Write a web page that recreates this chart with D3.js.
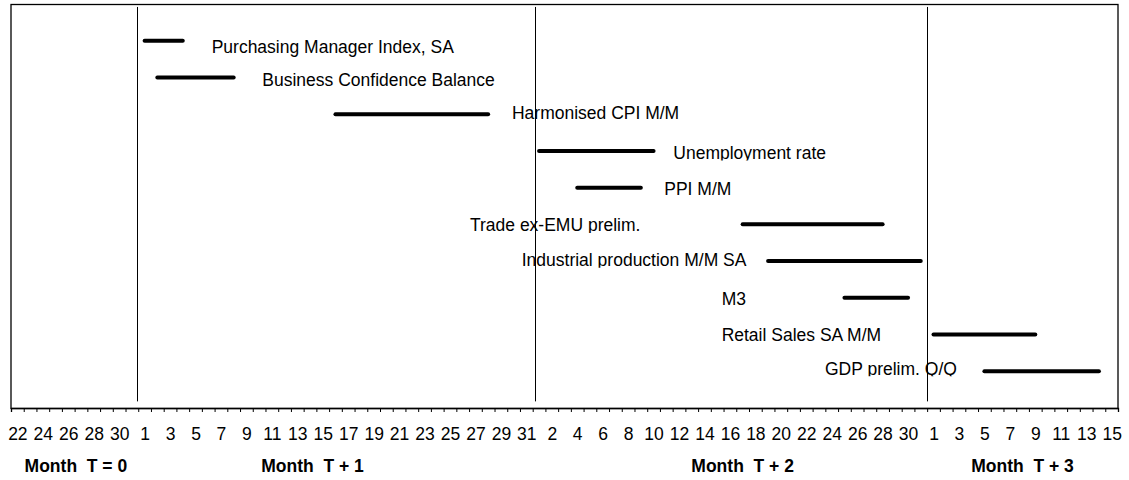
<!DOCTYPE html>
<html>
<head>
<meta charset="utf-8">
<script src="https://cdn.jsdelivr.net/npm/d3@7"></script>
<style>
  body { margin: 0; background: #fff; }
  svg { display: block; font-family: "Liberation Sans", Arial, sans-serif; }
</style>
</head>
<body>
<svg id="chart" width="1129" height="480"></svg>
<script>
// months on the axis: T = 0 .. T + 3, first and last day shown
const monthFirst = [22, 1, 1, 1];
const monthLast = [31, 31, 31, 15];
const monthNames = ["Month  T = 0", "Month  T + 1", "Month  T + 2", "Month  T + 3"];
// where the month captions sit (in days from the axis start)
const monthLabelPos = [5.1, 23.7, 57.5, 79.5];
// month separator lines (days from axis start)
const monthSeps = [9.9, 41.2, 72.0];

// release windows
const indicators = [
  "Purchasing Manager Index, SA",
  "Business Confidence Balance",
  "Harmonised CPI M/M",
  "Unemployment rate",
  "PPI M/M",
  "Trade ex-EMU prelim.",
  "Industrial production M/M SA",
  "M3",
  "Retail Sales SA M/M",
  "GDP prelim. Q/Q"
];
const startMonth = [1, 1, 1, 2, 2, 2, 2, 2, 3, 3];
const startDay   = [1, 2, 16, 1, 4, 17, 19, 25, 1, 5];
const endMonth   = [1, 1, 1, 2, 2, 2, 2, 2, 3, 3];
const endDay     = [4, 8, 28, 10, 9, 28, 31, 30, 9, 14];
// label anchors (days from axis start, row)
const labelX = [15.77, 19.75, 39.37, 52.05, 51.34, 36.07, 40.14, 55.85, 55.85, 63.97];
const labelRow = [1.15, 2.05, 2.95, 4.05, 5.02, 6.02, 6.97, 8.03, 9.0, 9.92];
// text boxes that cut off the descenders
const clipped = new Set([1, 2, 3, 4, 5, 6, 7, 8, 9]);

const FONT = 17.5;
const svg = d3.select("#chart");

//categories: one per day
const days = [];
monthFirst.forEach((f, m) => {
    d3.range(f, monthLast[m] + 1).forEach(d => days.push({ m: m, d: d }));
});
const dayIndex = (m, d) => days.findIndex(o => o.m === m && o.d === d);

const x = d3.scaleLinear().domain([0, days.length]).range([11, 1118]);
const y = d3.scaleLinear().domain([0, 11]).range([4, 408]);

//frame
svg.append("rect")
    .attr("x", x(0))
    .attr("y", y(0) + 0.5)
    .attr("width", x(days.length) - x(0))
    .attr("height", y(11) - y(0))
    .attr("fill", "none")
    .attr("stroke", "#000")
    .attr("stroke-width", 1.3);

//month lines
svg.append("g").selectAll("line")
    .data(monthSeps)
    .join("line")
    .attr("x1", d => Math.round(x(d)) + 0.5)
    .attr("x2", d => Math.round(x(d)) + 0.5)
    .attr("y1", y(0.08))
    .attr("y2", y(10.82))
    .attr("stroke", "#000")
    .attr("stroke-width", 1);

//tick marks on day boundaries
const tickAxis = svg.append("g")
    .attr("transform", `translate(0,${y(11)})`)
    .call(d3.axisBottom(x).tickValues(d3.range(0, days.length + 1)).tickSize(4).tickFormat(""));
tickAxis.select(".domain").attr("stroke", "#000").attr("stroke-width", 1.3);
tickAxis.selectAll(".tick line").attr("stroke", "#000");

//day labels every second day, centred on the day
const labelAxis = svg.append("g")
    .attr("transform", `translate(0,${y(11)})`)
    .call(d3.axisBottom(x)
        .tickValues(d3.range(0, days.length, 2).map(i => i + 0.5))
        .tickSize(0)
        .tickPadding(20)
        .tickFormat(v => days[Math.floor(v)].d));
labelAxis.select(".domain").remove();
labelAxis.selectAll("text")
    .attr("font-family", "\"Liberation Sans\", Arial, sans-serif")
    .attr("font-size", FONT)
    .attr("fill", "#000");

//month captions
svg.append("g").selectAll("text")
    .data(monthNames)
    .join("text")
    .attr("x", (d, i) => x(monthLabelPos[i]))
    .attr("y", 472)
    .attr("text-anchor", "middle")
    .attr("font-weight", "bold")
    .attr("font-size", FONT)
    .style("white-space", "pre")
    .text(d => d);

//bars
svg.append("g").selectAll("line")
    .data(indicators)
    .join("line")
    .attr("x1", (d, i) => x(dayIndex(startMonth[i], startDay[i]) + 0.5))
    .attr("x2", (d, i) => x(dayIndex(endMonth[i], endDay[i]) + 0.5))
    .attr("y1", (d, i) => y(i + 1))
    .attr("y2", (d, i) => y(i + 1))
    .attr("stroke", "#000")
    .attr("stroke-width", 4)
    .attr("stroke-linecap", "round");

//labels
const defs = svg.append("defs");
indicators.forEach((name, i) => {
    const base = y(labelRow[i]) + FONT * 0.36;
    if (clipped.has(i)) {
        defs.append("clipPath")
            .attr("id", "clip" + i)
            .append("rect")
            .attr("x", 0)
            .attr("y", base - 30)
            .attr("width", 1129)
            .attr("height", 31.5);
    }
    svg.append("text")
        .attr("x", x(labelX[i]))
        .attr("y", base)
        .attr("font-size", FONT)
        .attr("fill", "#000")
        .attr("clip-path", clipped.has(i) ? `url(#clip${i})` : null)
        .text(name);
});
</script>
</body>
</html>
